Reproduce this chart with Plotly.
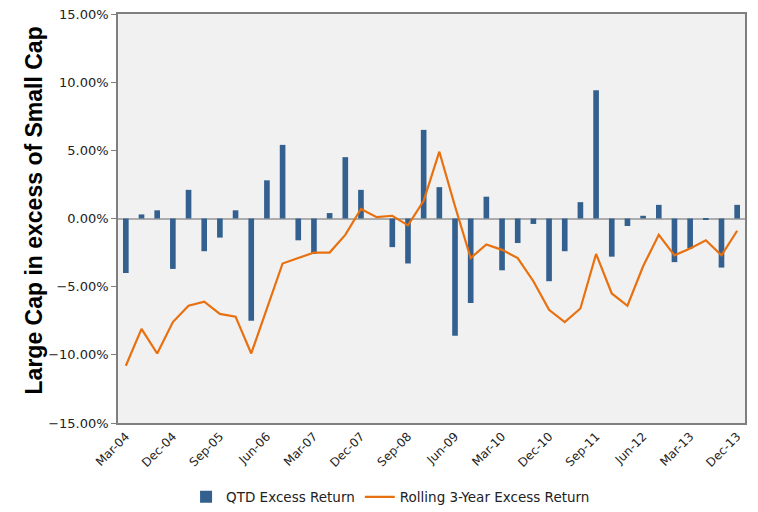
import plotly.graph_objects as go

quarters = []
for yr in range(4, 14):
    for m in ['Mar', 'Jun', 'Sep', 'Dec']:
        quarters.append(m + '-' + str(yr).zfill(2))

tick_labels = quarters[::3]

# QTD excess return (%), large cap minus small cap
qtd_excess = [-4.0, 0.3, 0.6, -3.7, 2.1, -2.4, -1.4, 0.6, -7.5, 2.8,
              5.4, -1.6, -2.6, 0.4, 4.5, 2.1, 0.0, -2.1, -3.3, 6.5,
              2.3, -8.6, -6.2, 1.6, -3.8, -1.8, -0.4, -4.6, -2.4, 1.2,
              9.4, -2.8, -0.55, 0.2, 1.0, -3.2, -2.2, -0.1, -3.6, 1.0]

# rolling 3-year excess return (%)
rolling_3yr = [-10.8, -8.1, -9.9, -7.6, -6.4, -6.1, -7.0, -7.2, -9.9, -6.6,
               -3.3, -2.9, -2.5, -2.5, -1.2, 0.7, 0.1, 0.2, -0.5, 1.3,
               4.9, 0.9, -2.9, -1.9, -2.3, -2.9, -4.6, -6.7, -7.6, -6.6,
               -2.6, -5.5, -6.4, -3.5, -1.2, -2.7, -2.2, -1.6, -2.7, -0.9]

fig = go.Figure()

fig.add_trace(go.Bar(x=quarters, y=qtd_excess,
                     name='QTD Excess Return',
                     marker=dict(color='#33608F', line=dict(width=0))))

fig.add_trace(go.Scatter(x=quarters, y=rolling_3yr,
                         mode='lines',
                         name='Rolling 3-Year Excess Return',
                         line=dict(color='#E8700F', width=2.2)))

# page body has an 8px margin, so the margins are shifted by that much
fig.update_layout(
    width=758, height=512,
    margin=dict(l=110, r=21, t=6, b=97, autoexpand=False),
    paper_bgcolor='white',
    plot_bgcolor='#F1F1F1',
    bargap=0.64,
    font=dict(family='DejaVu Sans', color='#222222'),
    legend=dict(orientation='h', x=(391 - 118) / 628, xanchor='center',
                y=(423 - 497) / 409, yanchor='middle',
                font=dict(family='DejaVu Sans', size=13.5, color='#222222'),
                bgcolor='rgba(0,0,0,0)', traceorder='normal'),
    showlegend=True,
)

fig.update_yaxes(range=[-15, 15], dtick=5, tickformat='.2f', ticksuffix='%',
                 tickfont=dict(family='DejaVu Sans', size=13, color='#222222'),
                 ticks='outside', ticklen=5, tickcolor='#808080', automargin=False,
                 ticklabeloverflow='allow',
                 showgrid=False, zeroline=True, zerolinecolor='#ADADAD', zerolinewidth=2,
                 showline=True, linecolor='#7F7F7F', linewidth=1.5, mirror=True)

fig.update_xaxes(type='category', tickvals=tick_labels, ticktext=tick_labels,
                 tickangle=-45, automargin=False, ticklabeloverflow='allow',
                 tickfont=dict(family='DejaVu Sans', size=12, color='#222222'),
                 showgrid=False, showline=True, linecolor='#7F7F7F', linewidth=1.5, mirror=True)

fig.add_annotation(text='<b>Large Cap in excess of Small Cap</b>', textangle=-90,
                   xref='paper', yref='paper', x=(34 - 118) / 628, y=0.52,
                   xanchor='center', yanchor='middle', showarrow=False,
                   font=dict(family='Liberation Sans', size=23, color='black'))

fig.write_html('out.html')
